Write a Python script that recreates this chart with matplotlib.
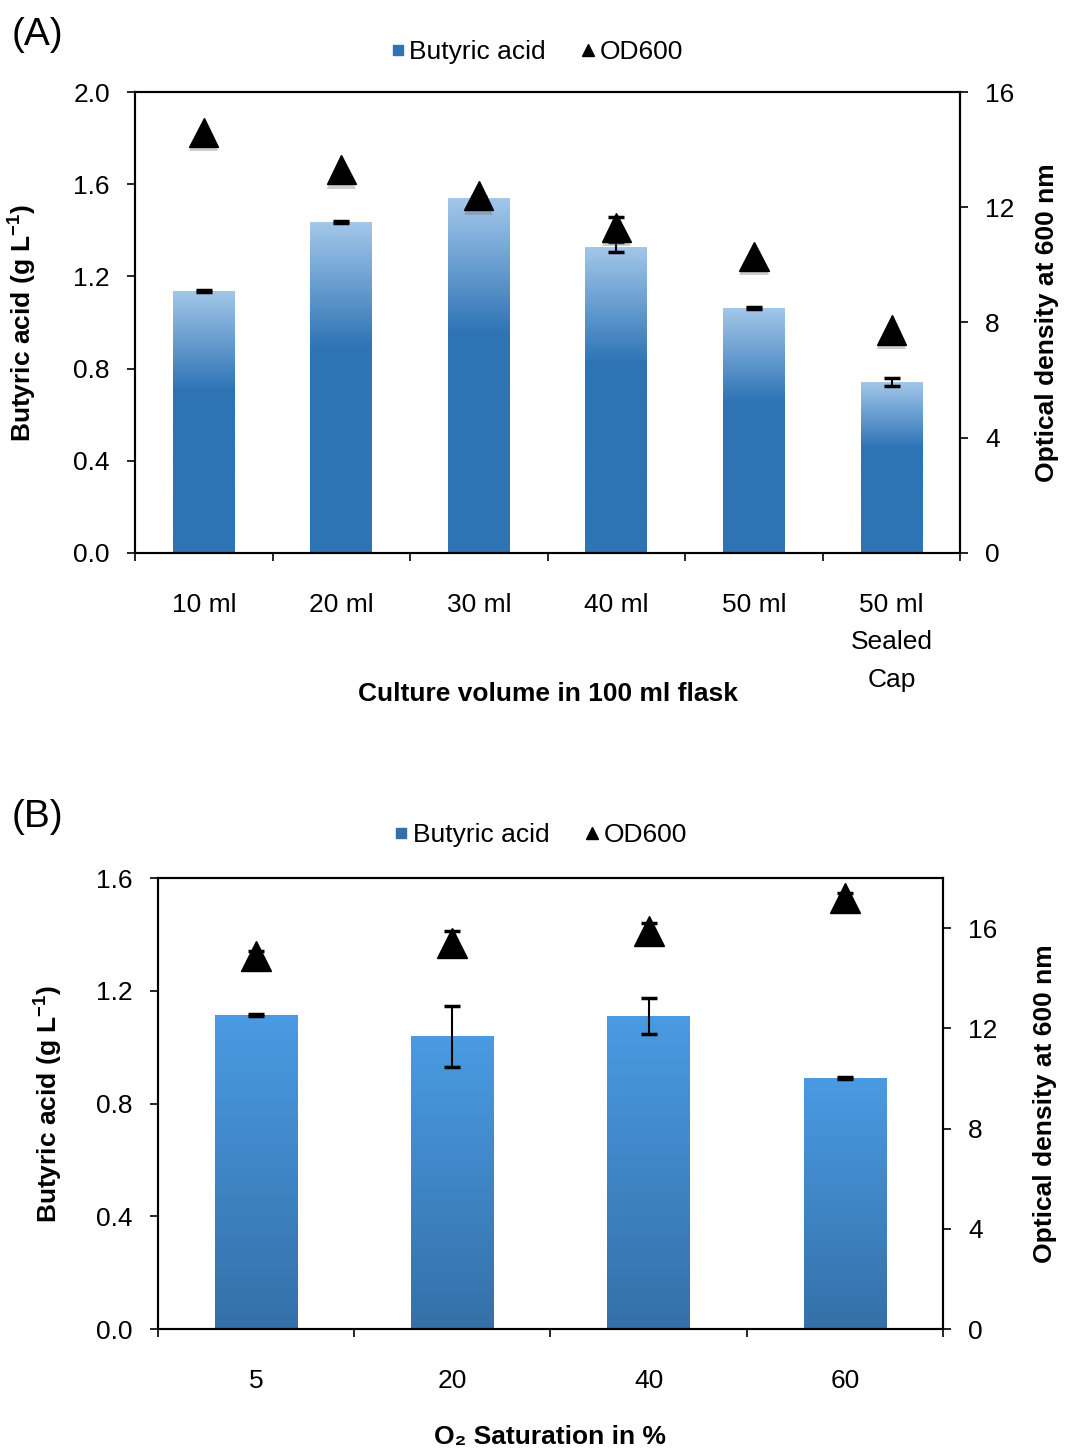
import numpy as np
import matplotlib
matplotlib.use('Agg')
import matplotlib.pyplot as plt
import matplotlib.patheffects as pe
from matplotlib.lines import Line2D
from matplotlib.colors import to_rgb

plt.rcParams['font.family'] = ['Liberation Sans', 'DejaVu Sans']
plt.rcParams['mathtext.fontset'] = 'custom'
plt.rcParams['mathtext.bf'] = 'Liberation Sans:bold'
plt.rcParams['mathtext.rm'] = 'Liberation Sans'

# panel A data
volumes = ['10 ml', '20 ml', '30 ml', '40 ml', '50 ml', '50 ml\nSealed\nCap']
butyric_a = [1.137, 1.436, 1.54, 1.328, 1.063, 0.742]
butyric_a_err = [0.005, 0.004, 0.004, 0.02, 0.003, 0.017]
od_a = [14.6, 13.3, 12.4, 11.3, 10.3, 7.74]
od_a_err = [0, 0, 0, 0.35, 0, 0]

# panel B data
o2_sat = ['5', '20', '40', '60']
butyric_b = [1.115, 1.039, 1.111, 0.89]
butyric_b_err = [0.004, 0.108, 0.064, 0.004]
od_b = [14.9, 15.4, 15.9, 17.2]
od_b_err = [0.2, 0.5, 0.3, 0.2]

FS = 19


def gradient_fill(ax, bars, top_col, bot_col, frac):
    top = np.array(to_rgb(top_col))
    bot = np.array(to_rgb(bot_col))
    for b in bars:
        x, y = b.get_x(), b.get_y()
        w, h = b.get_width(), b.get_height()
        t = np.linspace(0, 1, 256)  # 0 bottom -> 1 top
        s = np.clip((t - (1 - frac)) / frac, 0, 1)
        col = bot[None, :] * (1 - s[:, None]) + top[None, :] * s[:, None]
        arr = np.repeat(col[:, None, :], 2, axis=1)
        im = ax.imshow(arr, extent=[x, x + w, y, y + h], origin='lower',
                       aspect='auto', zorder=2, interpolation='bilinear')
        im.set_clip_path(b)
        b.set_facecolor('none')


def panel(ax, cats, vals, errs, ods, od_errs, width, top_col, bot_col, frac,
          ymax, ystep, od_max, xlabel, shadow, legend_y):
    n = len(cats)
    x = np.arange(n)
    bars = ax.bar(x, vals, width, color=bot_col, zorder=2, linewidth=0)
    gradient_fill(ax, bars, top_col, bot_col, frac)
    ax.errorbar(x, vals, yerr=errs, fmt='none', ecolor='black', elinewidth=1.5,
                capsize=6, capthick=2.5, zorder=3)
    ax.set_xlim(-0.5, n - 0.5)
    ax.set_ylim(0, ymax)
    yt = np.arange(0, ymax + 1e-9, ystep)
    ax.set_yticks(yt)
    ax.set_yticklabels([f'{v:.1f}' for v in yt])
    ax.set_xticks(np.arange(-0.5, n, 1.0))
    ax.set_xticklabels([])
    ax.set_xticks(x, minor=True)
    ax.set_xticklabels(cats, minor=True, fontsize=FS, va='top', linespacing=1.7)
    ax.tick_params(axis='x', which='minor', length=0, pad=29)
    ax.tick_params(axis='x', which='major', length=6, width=1.2, direction='out')
    ax.tick_params(axis='y', length=6, width=1.2, labelsize=FS, pad=12)
    for sp in ax.spines.values():
        sp.set_linewidth(1.5)

    ax2 = ax.twinx()
    ax2.set_ylim(0, od_max)
    ax2.set_yticks([0, 4, 8, 12, 16])
    ax2.tick_params(axis='y', length=6, width=1.2, labelsize=FS, pad=12)
    effects = [pe.SimplePatchShadow(offset=(0, -3), shadow_rgbFace='0.45', alpha=0.35),
               pe.Normal()] if shadow else None
    ax2.plot(x, ods, '^', color='black', ms=21, zorder=4, path_effects=effects)
    has_err = [i for i in range(n) if od_errs[i] > 0]
    ax2.errorbar([x[i] for i in has_err], [ods[i] for i in has_err],
                 yerr=[od_errs[i] for i in has_err], fmt='none', ecolor='black',
                 elinewidth=1.5, capsize=6, capthick=2.5, zorder=5)
    for sp in ax2.spines.values():
        sp.set_linewidth(1.5)

    ax.set_xlabel(xlabel, fontsize=FS, fontweight='bold', va='center')
    ax.set_ylabel(r'Butyric acid (g L$^{\mathbf{-1}}$)', fontsize=FS,
                  fontweight='bold', va='center')
    ax2.set_ylabel('Optical density at 600 nm', fontsize=FS, fontweight='bold',
                   va='center', rotation=90)
    handles = [Line2D([], [], marker='s', color=bot_col, ls='none', ms=7),
               Line2D([], [], marker='^', color='black', ls='none', ms=9)]
    ax.legend(handles, ['Butyric acid', 'OD600'], loc='center',
              bbox_to_anchor=(0.485, legend_y), ncol=2, frameon=False,
              fontsize=FS, handletextpad=0.05, handlelength=0.8,
              columnspacing=1.2)
    return ax2


fig = plt.figure(figsize=(10.67, 14.52), dpi=100)

axA = fig.add_axes([0.1265, 0.6192, 0.7735, 0.3174])
axA2 = panel(axA, volumes, butyric_a, butyric_a_err, od_a, od_a_err, 0.45,
             '#a3c7ea', '#2e74b5', 0.38, 2.0, 0.4, 16,
             'Culture volume in 100 ml flask', True, 1.087)
axA.xaxis.set_label_coords(0.5, -0.306)
axA.yaxis.set_label_coords(-0.137, 0.5)
axA2.yaxis.set_label_coords(1.105, 0.5)

axB = fig.add_axes([0.148, 0.0847, 0.7357, 0.3106])
axB2 = panel(axB, o2_sat, butyric_b, butyric_b_err, od_b, od_b_err, 0.42,
             '#4a9be3', '#3470a8', 1.0, 1.6, 0.4, 18,
             'O\u2082 Saturation in %', False, 1.095)
axB.xaxis.set_label_coords(0.5, -0.239)
axB.yaxis.set_label_coords(-0.141, 0.5)
axB2.yaxis.set_label_coords(1.13, 0.5)

fig.text(0.011, 0.976, '(A)', fontsize=28, va='center', ha='left')
fig.text(0.011, 0.437, '(B)', fontsize=28, va='center', ha='left')

fig.savefig('out.png', dpi=100)
